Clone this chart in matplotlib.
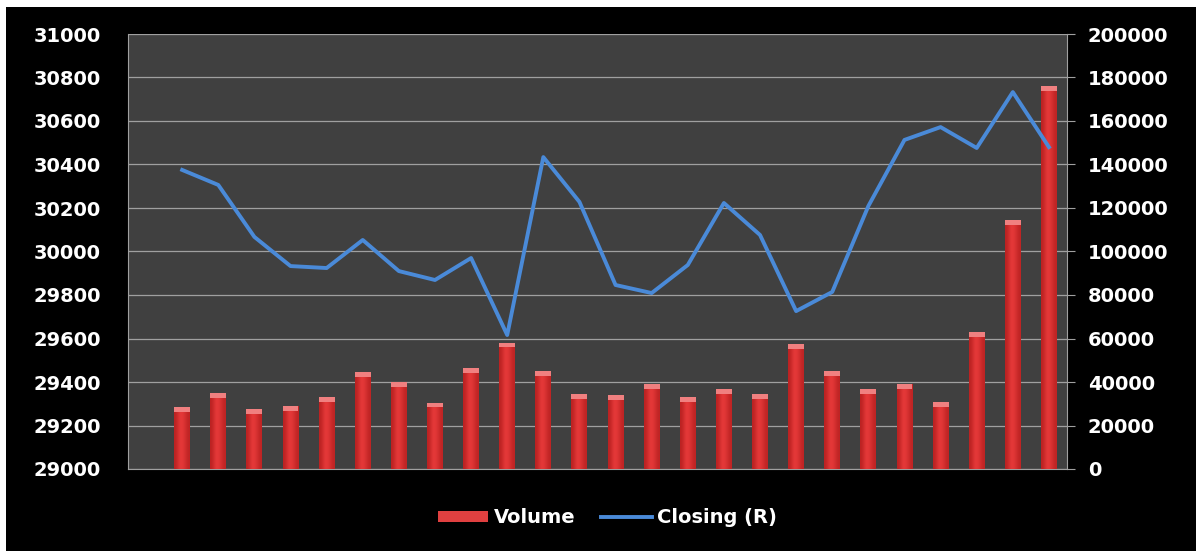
import matplotlib
matplotlib.use('Agg')
import matplotlib.pyplot as plt
from matplotlib.patches import Rectangle
from matplotlib.lines import Line2D
from matplotlib.colors import LinearSegmentedColormap
import numpy as np

# 26 slots on the category axis, the first one is left empty
slots = np.arange(26)
days = slots[1:]

volume = [28600, 34800, 27400, 29000, 33200, 44700, 40100, 30500, 46300, 58100,
          45100, 34500, 34000, 39100, 33200, 36800, 34300, 57500, 45100, 36800,
          39100, 30900, 63100, 114500, 176100]

closing = [30375, 30306, 30067, 29933, 29924, 30053, 29910, 29869, 29970, 29616,
           30434, 30228, 29846, 29809, 29938, 30223, 30076, 29726, 29814, 30209,
           30513, 30572, 30476, 30733, 30480]

left_ticks = np.arange(29000, 31001, 200)
right_ticks = np.arange(0, 200001, 20000)

fig = plt.figure(figsize=(11.96, 5.51), dpi=100, facecolor='white')
fig.patches.append(Rectangle((6 / 1196, 0), 1, 1 - 7 / 551, transform=fig.transFigure,
                             facecolor='black', edgecolor='none', zorder=-10))

ax = fig.add_axes([128 / 1196, 1 - 469 / 551, 939 / 1196, 435 / 551])
ax.set_facecolor('#404040')

# volume bars (right scale) with a soft cylinder shading
cyl = LinearSegmentedColormap.from_list('cyl', ['#b01c1c', '#e83a3a'])
bars = ax.bar(days, volume, width=0.44, color='#d62c2c', zorder=2)
shade = np.array([[0.2, 0.6, 1.0, 0.85, 0.55, 0.25]])
for b in bars:
    x0, w, h = b.get_x(), b.get_width(), b.get_height()
    im = ax.imshow(shade, cmap=cyl, vmin=0, vmax=1, aspect='auto',
                   extent=[x0, x0 + w, 0, h], zorder=3, interpolation='bicubic')
    im.set_clip_path(b)
    ax.add_patch(Rectangle((x0, h - 2200), w, 2200, facecolor='#f08080',
                           edgecolor='none', zorder=4))

ax.set_xlim(-0.5, 25.5)
ax.set_ylim(0, 200000)
ax.set_yticks(right_ticks)
ax.set_xticks([])
ax.grid(axis='y', color='#a0a0a0', linewidth=0.9, zorder=1)
ax.set_axisbelow(True)

# closing line (left scale)
ax2 = ax.twinx()
ax2.plot(days, closing, color='#4a8ad8', linewidth=2.8, zorder=5)
ax2.set_ylim(29000, 31000)
ax2.set_yticks(left_ticks)
ax2.set_xlim(-0.5, 25.5)

for a in (ax, ax2):
    for s in a.spines.values():
        s.set_visible(False)
for side in ('bottom', 'left', 'right'):
    ax.spines[side].set_visible(True)
    ax.spines[side].set_color('#a0a0a0')

ax.tick_params(axis='y', right=True, left=False, labelright=True, labelleft=False,
               colors='#a0a0a0', length=6, pad=9, labelcolor='white', labelsize=14)
ax2.tick_params(axis='y', left=False, right=False, labelleft=True, labelright=False,
                pad=16, labelcolor='white', labelsize=14)
for lbl in ax.get_yticklabels() + ax2.get_yticklabels():
    lbl.set_fontweight('bold')

handles = [Rectangle((0, 0), 1, 1, facecolor='#e04040', edgecolor='none'),
           Line2D([], [], color='#4a8ad8', linewidth=2.8)]
leg = fig.legend(handles, ['Volume', 'Closing (R)'], loc='center', ncol=2,
                 bbox_to_anchor=(0.508, 0.06), frameon=False, handlelength=2.6,
                 handleheight=0.5, handletextpad=0.3, columnspacing=1.3,
                 prop={'weight': 'bold', 'size': 14})
for t in leg.get_texts():
    t.set_color('white')

fig.savefig('out.png', dpi=100, facecolor=fig.get_facecolor())
